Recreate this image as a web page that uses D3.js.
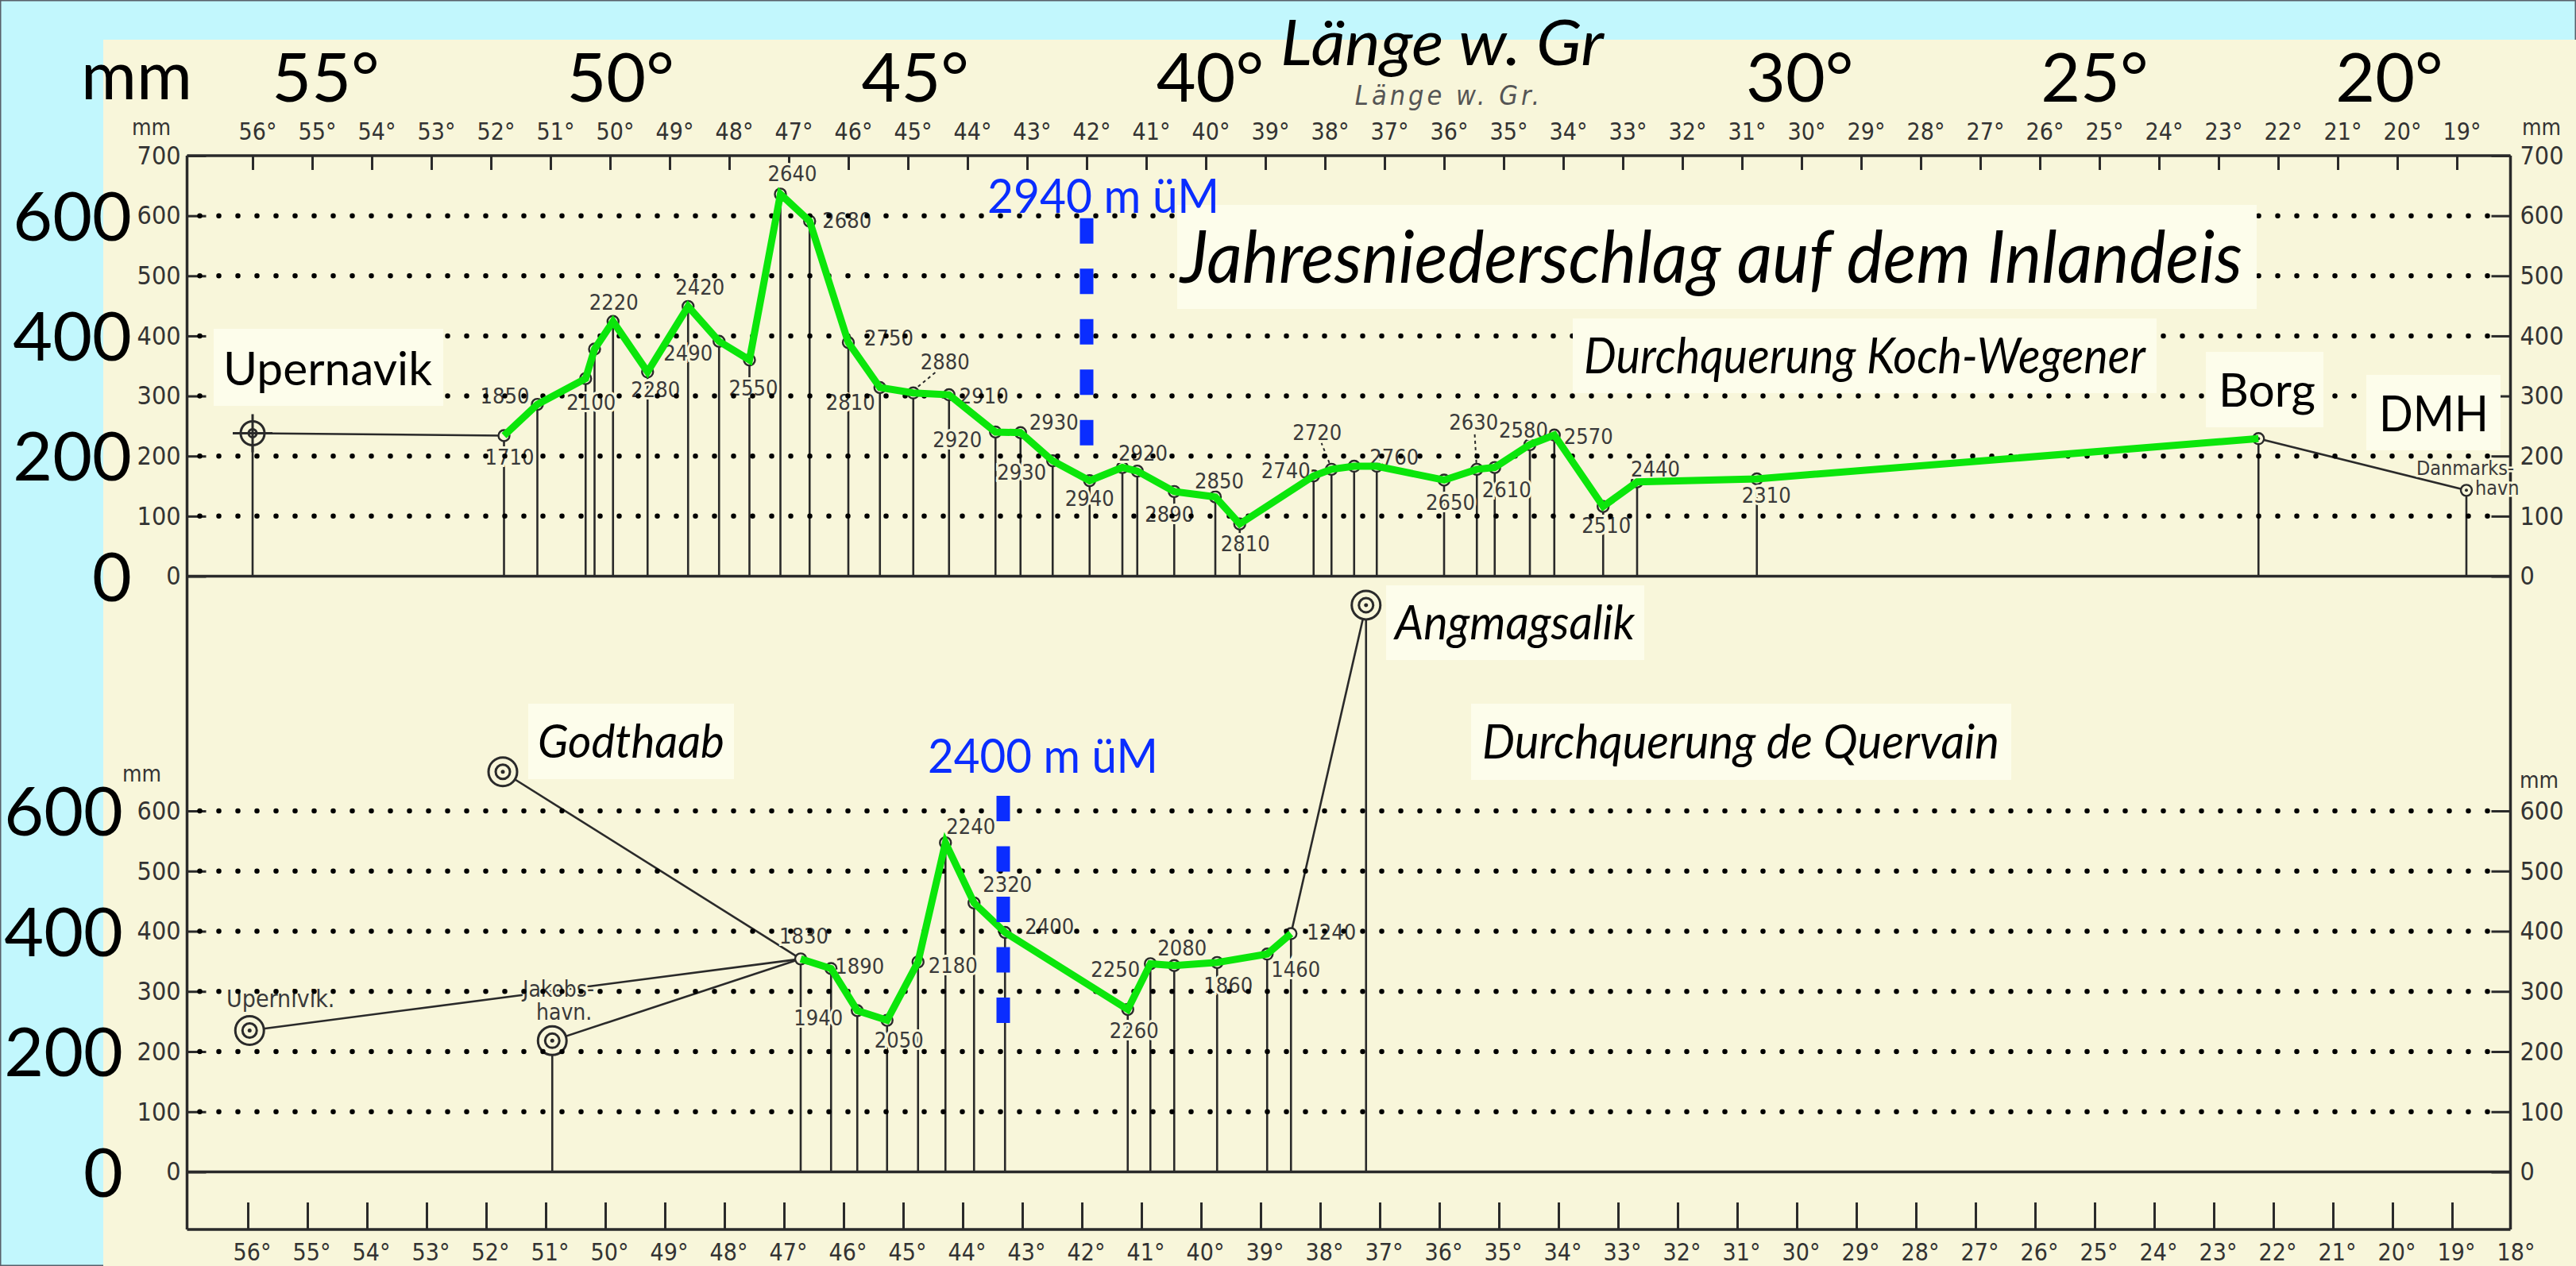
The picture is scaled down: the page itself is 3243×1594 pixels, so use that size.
<!DOCTYPE html>
<html>
<head>
<meta charset="utf-8">
<script src="https://cdn.jsdelivr.net/npm/d3@7"></script>
<style>
  html, body { margin: 0; padding: 0; background: #c2f7fd; }
  svg { display: block; }
</style>
</head>
<body>
<div id="chart"></div>
<script>
const W = 3243;
const H = 1594;

const CYAN = "#c2f7fd";
const PAPER = "#f8f6da";
const BOX = "#fdfdeb";
const INK = "#2a2a2a";
const GREEN = "#0be60b";
const BLUE = "#0a2dff";
const SANS = "Lato, 'Open Sans', sans-serif";
const NARROW = "'Liberation Sans Narrow', 'DejaVu Sans Condensed', 'Roboto Condensed', Roboto, sans-serif";

// ---- data -----------------------------------------------------------------------

// longitude scale (degrees west of Greenwich)
const topTicks = d3.range(56, 18, -1);
const bottomTicks = d3.range(56, 17, -1);
const bigTicks = [55, 50, 45, 40, 30, 25, 20];
const mmTicksTop = [0, 100, 200, 300, 400, 500, 600, 700];
const mmTicksBottom = [0, 100, 200, 300, 400, 500, 600];
const gridMm = [100, 200, 300, 400, 500, 600];
const bigMm = [600, 400, 200, 0];

// Durchquerung Koch-Wegener: stations on the ice (lon, precipitation mm, altitude m)
const kwLon = [51.78, 51.22, 50.41, 50.26, 49.95, 49.37, 48.69, 48.17, 47.66, 47.14,
               46.65, 46.00, 45.47, 44.91, 44.31, 43.53, 43.11, 42.57, 41.95, 41.40,
               41.15, 40.53, 39.84, 39.43, 38.19, 37.89, 37.51, 37.13, 36.00, 35.45,
               35.15, 34.56, 34.15, 33.33, 32.76, 30.75];
const kwMm  = [234, 286, 329, 378, 424, 340, 449, 391, 360, 636,
               591, 389, 314, 305, 302, 240, 239, 192, 159, 181,
               175, 141, 132, 87, 167, 178, 183, 183, 160, 178,
               181, 219, 235, 116, 157, 162];
const kwAlt = ["1710", "1850", "2100", "", "2220", "2280", "2420", "2490", "2550", "2640",
               "2680", "2750", "2810", "2880", "2910", "2920", "2930", "2930", "2940", "2920",
               "", "2890", "2850", "2810", "2740", "2720", "", "2760", "2650", "2630",
               "2610", "2580", "2570", "2510", "2440", "2310"];

// coastal stations of the top profile
const kwCoastName = ["Upernavik", "Borg", "Danmarkshavn"];
const kwCoastLon = [56.0, 22.33, 18.84];
const kwCoastMm = [238, 229, 143];

// Durchquerung de Quervain
const qvLon = [46.80, 46.29, 45.85, 45.35, 44.83, 44.37, 43.89, 43.37, 41.31, 40.93, 40.53, 39.81, 38.97, 38.57];
const qvMm  = [354, 338, 268, 252, 349, 547, 447, 398, 270, 346, 343, 348, 362, 396];
const qvAlt = ["1830", "1890", "1940", "2050", "2180", "2240", "2320", "2400", "2260", "2250", "2080", "1860", "1460", "1240"];

const qvCoastName = ["Upernavik", "Godthaab", "Jakobshavn", "Angmagsalik"];
const qvCoastLon = [56.05, 51.80, 50.97, 37.31];
const qvCoastMm = [235, 665, 218, 942];

// highest point of each crossing (blue marker)
const summitLabel = ["2940 m üM", "2400 m üM"];
const summitLon = [42.0, 43.4];
const summitFromMm = [216, 246];
const summitToMm = [596, 625];

// label placement (pixel offsets from the station circle), layout only
const kwLabelOffset = [[7, 28], [-41, -10], [7, 30], null, [1, -24], [10, 23], [15, -24], [-39, 15], [5, 36], [15, -25],
                       [47, 0], [51, -5], [-37, 19], [40, -39], [44, 2], [-48, 10], [42, -13], [-39, 15], [0, 23], [26, -18],
                       null, [-6, 29], [5, -20], [7, 25], [-35, -6], [-18, -46], null, [22, -11], [8, 29], [-4, -59],
                       [15, 28], [-8, -18], [43, 2], [4, 24], [23, -16], [12, 21]];
const kwLeader = ["2880", "2720", "2630"];
const qvLabelOffset = [[4, -28], [36, -2], [-49, 10], [15, 25], [44, 5], [32, -20], [42, -23], [56, -7],
                       [8, 27], [-44, 8], [10, -22], [14, 29], [36, 20], [51, -2]];

const kwStations = kwLon.map((lon, i) => ({ lon, mm: kwMm[i], alt: kwAlt[i], off: kwLabelOffset[i] }));
const qvStations = qvLon.map((lon, i) => ({ lon, mm: qvMm[i], alt: qvAlt[i], off: qvLabelOffset[i] }));
const kwCoast = kwCoastName.map((name, i) => ({ name, lon: kwCoastLon[i], mm: kwCoastMm[i] }));
const qvCoast = qvCoastName.map((name, i) => ({ name, lon: qvCoastLon[i], mm: qvCoastMm[i] }));

// ---- scales -----------------------------------------------------------------------

const x = d3.scaleLinear().domain([56, 19]).range([318, 3093]);
const xBig = d3.scaleLinear().domain([55, 20]).range([410, 3008]);
const yTop = d3.scaleLinear().domain([0, 700]).range([725.5, 196]);
const yBot = d3.scaleLinear().domain([0, 600]).range([1475.5, 1021]);

const frameL = x(57.1);
const frameR = x(18.1);
const frameTop = yTop(700);
const frameBottom = 1548;

const svg = d3.select("#chart").append("svg").attr("width", W).attr("height", H);

svg.append("rect").attr("width", W).attr("height", H).attr("fill", CYAN)
  .attr("stroke", "#59606a").attr("stroke-width", 3);
svg.append("rect").attr("x", 130).attr("y", 50).attr("width", W - 130).attr("height", H - 50).attr("fill", PAPER);

////////////////////////////////////////////////////////////////////////////////////
// frame and axes

const frame = svg.append("g").attr("stroke", INK).attr("stroke-width", 3.5).attr("fill", "none");
frame.append("line").attr("x1", frameL).attr("x2", frameR).attr("y1", frameTop).attr("y2", frameTop);
frame.append("line").attr("x1", frameL).attr("x2", frameL).attr("y1", frameTop).attr("y2", frameBottom);
frame.append("line").attr("x1", frameR).attr("x2", frameR).attr("y1", frameTop).attr("y2", frameBottom);
frame.append("line").attr("x1", frameL).attr("x2", frameR).attr("y1", yTop(0)).attr("y2", yTop(0));
frame.append("line").attr("x1", frameL).attr("x2", frameR).attr("y1", yBot(0)).attr("y2", yBot(0));
frame.append("line").attr("x1", frameL).attr("x2", frameR).attr("y1", frameBottom).attr("y2", frameBottom);

function styleAxis(g, size) {
  g.select(".domain").remove();
  g.selectAll("line").attr("stroke", INK).attr("stroke-width", 3);
  g.selectAll("text").attr("font-family", NARROW).attr("font-size", size).attr("fill", "#333");
}

const topAxis = svg.append("g").attr("transform", `translate(0,${frameTop})`)
  .call(d3.axisTop(x).tickValues(topTicks).tickFormat(d => d + "°").tickSizeInner(-18).tickSizeOuter(0).tickPadding(20));
styleAxis(topAxis, 30);
topAxis.selectAll("text").attr("dx", 6);

const bottomAxis = svg.append("g").attr("transform", `translate(-6,${frameBottom})`)
  .call(d3.axisBottom(x).tickValues(bottomTicks).tickFormat(d => d + "°").tickSizeInner(-34).tickSizeOuter(0).tickPadding(18));
styleAxis(bottomAxis, 30);
bottomAxis.selectAll("text").attr("dx", 5);
bottomAxis.selectAll(".tick").filter(d => d === 18).select("line").remove();

function mmAxis(axisFn, scale, values, xPos) {
  const g = svg.append("g").attr("transform", `translate(${xPos},0)`)
    .call(axisFn(scale).tickValues(values).tickSizeInner(-24).tickSizeOuter(0).tickPadding(axisFn === d3.axisLeft ? 8 : 12));
  styleAxis(g, 32);
  return g;
}
mmAxis(d3.axisLeft, yTop, mmTicksTop, frameL);
mmAxis(d3.axisRight, yTop, mmTicksTop, frameR);
mmAxis(d3.axisLeft, yBot, mmTicksBottom, frameL);
mmAxis(d3.axisRight, yBot, mmTicksBottom, frameR);

const unit = svg.append("g").attr("font-family", NARROW).attr("font-size", 28).attr("fill", "#333");
unit.append("text").attr("x", 166).attr("y", 170).text("mm");
unit.append("text").attr("x", 3175).attr("y", 170).text("mm");
unit.append("text").attr("x", 154).attr("y", 984).text("mm");
unit.append("text").attr("x", 3172).attr("y", 992).text("mm");

svg.append("text").attr("x", 1824).attr("y", 132).attr("text-anchor", "middle")
  .attr("font-family", NARROW).attr("font-size", 34).attr("font-style", "italic").attr("fill", "#555")
  .attr("letter-spacing", 4).text("Länge w. Gr.");

////////////////////////////////////////////////////////////////////////////////////
// stations: stems, connecting lines, circles, altitude labels

const marks = svg.append("g");

function stems(data, y, r) {
  marks.append("g").selectAll("line").data(data).join("line")
    .attr("x1", d => x(d.lon)).attr("x2", d => x(d.lon))
    .attr("y1", y(0)).attr("y2", d => y(d.mm) + r)
    .attr("stroke", INK).attr("stroke-width", 2.6);
}
stems(kwStations, yTop, 7);
stems(kwCoast, yTop, 7);
stems(qvStations, yBot, 7);
stems(qvCoast.filter(d => d.name === "Jakobshavn" || d.name === "Angmagsalik"), yBot, 18);

function connect(a, b, y) {
  marks.append("line")
    .attr("x1", x(a.lon)).attr("y1", y(a.mm)).attr("x2", x(b.lon)).attr("y2", y(b.mm))
    .attr("stroke", INK).attr("stroke-width", 2.6);
}
connect(kwCoast[0], kwStations[0], yTop);
connect(kwCoast[1], kwCoast[2], yTop);
connect(qvCoast[0], qvStations[0], yBot);
connect(qvCoast[1], qvStations[0], yBot);
connect(qvCoast[2], qvStations[0], yBot);
connect(qvStations[qvStations.length - 1], qvCoast[3], yBot);

function circles(data, y) {
  marks.append("g").selectAll("circle").data(data).join("circle")
    .attr("cx", d => x(d.lon)).attr("cy", d => y(d.mm)).attr("r", 7)
    .attr("fill", PAPER).attr("stroke", INK).attr("stroke-width", 2.4);
}
circles(kwStations, yTop);
circles(kwCoast.slice(1), yTop);
circles(qvStations, yBot);
marks.append("g").selectAll("circle").data(kwCoast.slice(1)).join("circle")
  .attr("cx", d => x(d.lon)).attr("cy", d => yTop(d.mm)).attr("r", 2).attr("fill", INK);

// Upernavik target symbol (top)
const up = kwCoast[0];
const target = marks.append("g").attr("transform", `translate(${x(up.lon)},${yTop(up.mm)})`)
  .attr("stroke", INK).attr("stroke-width", 3).attr("fill", "none");
target.append("circle").attr("r", 15).attr("fill", PAPER);
target.append("circle").attr("r", 5);
target.append("line").attr("x1", -25).attr("x2", 25);
target.append("line").attr("y1", -24).attr("y2", 24);

// double-ring symbols (bottom coast stations)
const rings = marks.append("g").selectAll("g").data(qvCoast).join("g")
  .attr("transform", d => `translate(${x(d.lon)},${yBot(d.mm)})`)
  .attr("stroke", INK).attr("stroke-width", 3);
rings.append("circle").attr("r", 18).attr("fill", PAPER);
rings.append("circle").attr("r", 9).attr("fill", "none");
rings.append("circle").attr("r", 2.5).attr("fill", INK).attr("stroke", "none");

// leader lines
marks.append("g").selectAll("line").data(kwStations.filter(d => kwLeader.includes(d.alt))).join("line")
  .attr("x1", d => x(d.lon) + d.off[0] * 0.15).attr("y1", d => yTop(d.mm) - 8)
  .attr("x2", d => x(d.lon) + d.off[0] * 0.7).attr("y2", d => yTop(d.mm) + d.off[1] + 13)
  .attr("stroke", INK).attr("stroke-width", 2).attr("stroke-dasharray", "4 4");

function altLabels(data, y) {
  marks.append("g").selectAll("text").data(data.filter(d => d.alt)).join("text")
    .attr("x", d => x(d.lon) + d.off[0]).attr("y", d => y(d.mm) + d.off[1] + 9)
    .attr("text-anchor", "middle")
    .attr("font-family", NARROW).attr("font-size", 27).attr("fill", "#3a3a3a")
    .attr("stroke", PAPER).attr("stroke-width", 6).attr("paint-order", "stroke")
    .text(d => d.alt);
}
altLabels(kwStations, yTop);
altLabels(qvStations, yBot);

const printed = marks.append("g").attr("font-family", NARROW).attr("fill", "#3a3a3a")
  .attr("stroke", PAPER).attr("stroke-width", 5).attr("paint-order", "stroke");
printed.append("text").attr("x", 3042).attr("y", 598).attr("font-size", 25).text("Danmarks-");
printed.append("text").attr("x", 3116).attr("y", 623).attr("font-size", 25).text("havn");
printed.append("text").attr("x", 285).attr("y", 1268).attr("font-size", 30).text("Upernivik.");
printed.append("text").attr("x", 658).attr("y", 1255).attr("font-size", 28).text("Jakobs-");
printed.append("text").attr("x", 675).attr("y", 1284).attr("font-size", 28).text("havn.");

////////////////////////////////////////////////////////////////////////////////////
// dotted grid (drawn over the scan)

function dots(scale) {
  svg.append("g").selectAll("line").data(gridMm).join("line")
    .attr("x1", frameL + 16).attr("x2", frameR - 22)
    .attr("y1", d => scale(d)).attr("y2", d => scale(d))
    .attr("stroke", "#000").attr("stroke-width", 6.5)
    .attr("stroke-linecap", "round").attr("stroke-dasharray", "0 24");
}
dots(yTop);
dots(yBot);

////////////////////////////////////////////////////////////////////////////////////
// annotation boxes

const boxes = svg.append("g");
function note(bx, by, bw, bh, label, tx, ty, size, italic, width) {
  boxes.append("rect").attr("x", bx).attr("y", by).attr("width", bw).attr("height", bh).attr("fill", BOX);
  boxes.append("text").attr("x", tx).attr("y", ty)
    .attr("font-family", SANS).attr("font-size", size).attr("font-style", italic ? "italic" : "normal")
    .attr("fill", "#000").attr("textLength", width).attr("lengthAdjust", "spacingAndGlyphs")
    .text(label);
}

////////////////////////////////////////////////////////////////////////////////////
// green precipitation profiles and blue summit markers

const line = d3.line().x(d => x(d.lon));

svg.append("path")
  .datum(kwStations.concat([kwCoast[1]]))
  .attr("d", line.y(d => yTop(d.mm)))
  .attr("fill", "none").attr("stroke", GREEN).attr("stroke-width", 9)
  .attr("stroke-linejoin", "miter").attr("stroke-linecap", "butt");

svg.append("path")
  .datum(qvStations)
  .attr("d", line.y(d => yBot(d.mm)))
  .attr("fill", "none").attr("stroke", GREEN).attr("stroke-width", 9)
  .attr("stroke-linejoin", "miter").attr("stroke-linecap", "butt");

[yTop, yBot].forEach((scale, i) => {
  svg.append("line")
    .attr("x1", x(summitLon[i])).attr("x2", x(summitLon[i]))
    .attr("y1", scale(summitToMm[i])).attr("y2", scale(summitFromMm[i]))
    .attr("stroke", BLUE).attr("stroke-width", 17).attr("stroke-dasharray", "32 31.5");
});

const blue = svg.append("g").attr("font-family", SANS).attr("font-size", 60).attr("fill", BLUE);
blue.append("text").attr("x", 1243).attr("y", 268).attr("textLength", 292).attr("lengthAdjust", "spacingAndGlyphs").text(summitLabel[0]);
blue.append("text").attr("x", 1168).attr("y", 973).attr("textLength", 290).attr("lengthAdjust", "spacingAndGlyphs").text(summitLabel[1]);

note(269, 414, 289, 97, "Upernavik", 281, 485, 58, false, 263);
note(1482, 258, 1359, 131, "Jahresniederschlag auf dem Inlandeis", 1486, 356, 92, true, 1337);
note(1980, 401, 735, 94, "Durchquerung Koch-Wegener", 1994, 470, 62, true, 707);
note(2777, 443, 148, 95, "Borg", 2793, 512, 58, false, 122);
note(2979, 472, 169, 95, "DMH", 2995, 543, 62, false, 138);
note(665, 886, 259, 95, "Godthaab", 677, 954, 58, true, 235);
note(1745, 737, 325, 94, "Angmagsalik", 1756, 805, 60, true, 302);
note(1852, 886, 680, 96, "Durchquerung de Quervain", 1866, 955, 60, true, 651);

////////////////////////////////////////////////////////////////////////////////////
// large overlay labels

const big = svg.append("g").attr("font-family", SANS).attr("fill", "#000");

big.append("text").attr("x", 102).attr("y", 125).attr("font-size", 86)
  .attr("textLength", 140).attr("lengthAdjust", "spacingAndGlyphs").text("mm");

big.append("g").selectAll("text").data(bigTicks).join("text")
  .attr("x", d => xBig(d)).attr("y", 128).attr("text-anchor", "middle").attr("font-size", 86)
  .text(d => d + "°");

big.append("text").attr("x", 1612).attr("y", 82).attr("font-size", 80).attr("font-style", "italic")
  .attr("textLength", 407).attr("lengthAdjust", "spacingAndGlyphs").text("Länge w. Gr");

big.append("g").selectAll("text").data(bigMm).join("text")
  .attr("x", 166).attr("y", d => yTop(d) + 31).attr("text-anchor", "end").attr("font-size", 86)
  .text(d => d);

big.append("g").selectAll("text").data(bigMm).join("text")
  .attr("x", 155).attr("y", d => yBot(d) + 31).attr("text-anchor", "end").attr("font-size", 86)
  .text(d => d);
</script>
</body>
</html>
